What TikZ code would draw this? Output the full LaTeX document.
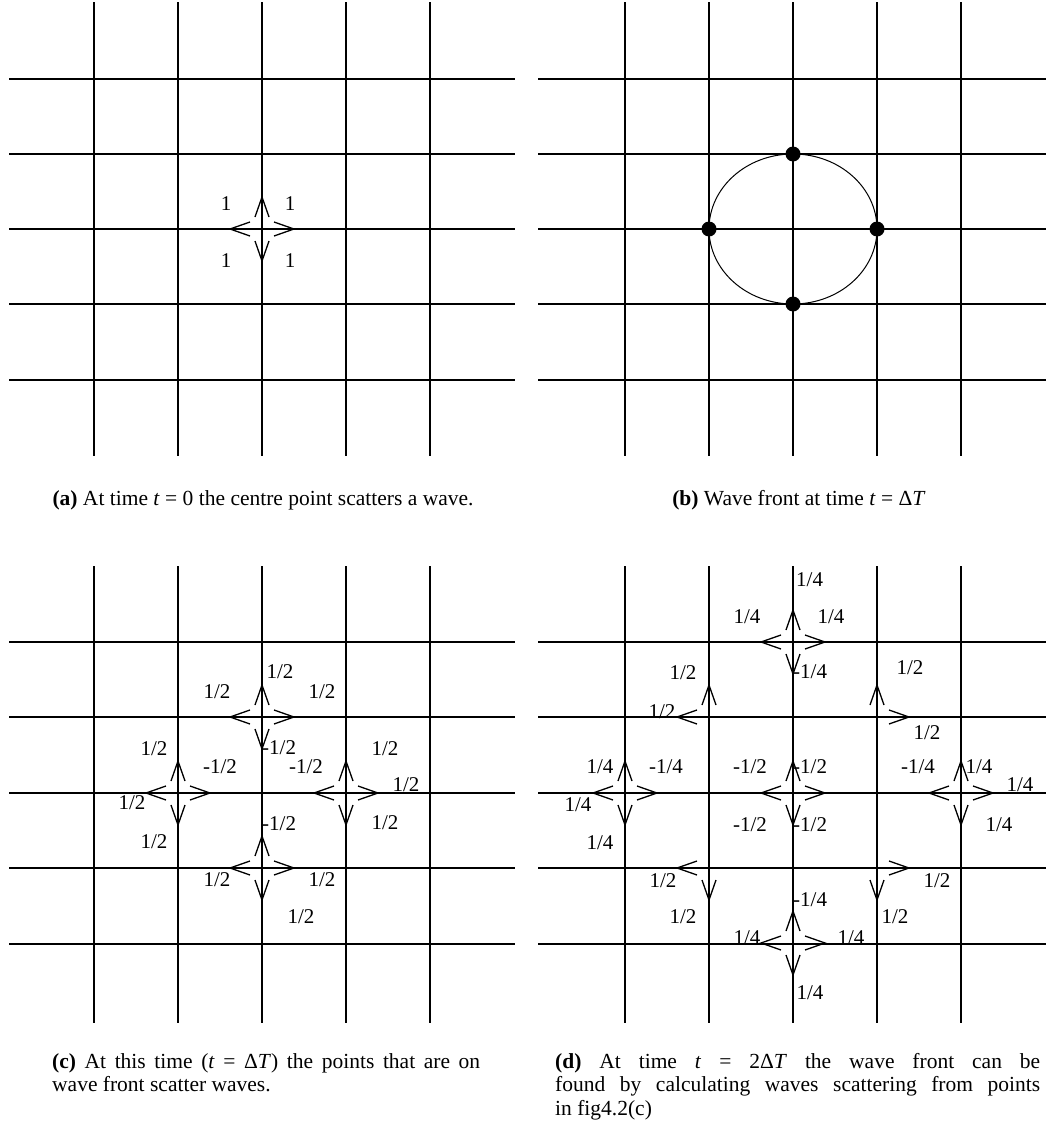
\documentclass[tikz,border=0pt]{standalone}
\usepackage{fontspec}
\setmainfont{Liberation Serif}
\tikzset{
  gridln/.style={line width=1.5pt, black},
  chv/.style={line width=1.3pt, line join=miter, black},
  lbl/.style={font=\fontsize{21}{24}\selectfont, inner sep=0pt},
  captxt/.style={font=\fontsize{21.5}{23.5}\selectfont, inner sep=0pt},
  cu/.pic={\draw[chv] (-7,-12) -- (0,-32) -- (7,-12);},
  cd/.pic={\draw[chv] (-7,12) -- (0,32) -- (7,12);},
  cl/.pic={\draw[chv] (-12,-7) -- (-32,0) -- (-12,7);},
  cr/.pic={\draw[chv] (12,-7) -- (32,0) -- (12,7);},
}
\newcommand\fourchev[1]{\pic at #1 {cu}; \pic at #1 {cd}; \pic at #1 {cl}; \pic at #1 {cr};}
\begin{document}
\begin{tikzpicture}[x=1pt,y=-1pt]
\useasboundingbox (0,0) rectangle (1047,1135);
% ---------- grids ----------
\foreach \x in {94,178,262,346,430} {\draw[gridln] (\x,2) -- (\x,456); \draw[gridln] (\x,566) -- (\x,1023);}
\foreach \y in {79,154,229,304,380} {\draw[gridln] (9,\y) -- (515,\y); \draw[gridln] (538,\y) -- (1046,\y);}
\foreach \x in {625,709,793,877,961} {\draw[gridln] (\x,2) -- (\x,456); \draw[gridln] (\x,566) -- (\x,1023);}
\foreach \y in {642,717,793,868,944} {\draw[gridln] (9,\y) -- (515,\y); \draw[gridln] (538,\y) -- (1046,\y);}

% ---------- (a) ----------
\fourchev{(262,229)}
\node[lbl] (a1) at (226,204) {1};
\node[lbl] (a2) at (290,204) {1};
\node[lbl] (a3) at (226,261) {1};
\node[lbl] (a4) at (290,261) {1};
\node[captxt] (capa) at (263,500) {\textbf{(a)} At time \textit{t} = 0 the centre point scatters a wave.};

% ---------- (b) ----------
\draw[line width=1pt] (793,229) ellipse [x radius=84, y radius=75];
\foreach \p in {(709,229),(877,229),(793,154),(793,304)}
  \fill \p circle [radius=7.5];
\node[captxt] (capb) at (799,500) {\textbf{(b)} Wave front at time \textit{t} = Δ\textit{T}};

% ---------- (c) ----------
\fourchev{(262,717)}
\fourchev{(178,793)}
\fourchev{(346,793)}
\fourchev{(262,868)}
\node[lbl] (c1) at (280,672) {1/2};
\node[lbl] (c2) at (217,692) {1/2};
\node[lbl] (c3) at (322,692) {1/2};
\node[lbl, anchor=west] (c4) at (262,748) {-1/2};
\node[lbl] (c5) at (154,749) {1/2};
\node[lbl] (c6) at (220,767) {-1/2};
\node[lbl] (c7) at (306,767) {-1/2};
\node[lbl] (c8) at (385,749) {1/2};
\node[lbl] (c9) at (406,785) {1/2};
\node[lbl] (c10) at (132,803) {1/2};
\node[lbl] (c11) at (385,823) {1/2};
\node[lbl] (c12) at (154,842) {1/2};
\node[lbl, anchor=west] (c13) at (262,824) {-1/2};
\node[lbl] (c14) at (217,880) {1/2};
\node[lbl] (c15) at (322,880) {1/2};
\node[lbl] (c16) at (301,917) {1/2};
\node[captxt, text width=428pt, align=justify, anchor=north west] (capc) at (52,1053)
  {\textbf{(c)} At this time (\textit{t} = Δ\textit{T}) the points that are on\linebreak wave front scatter waves.};

% ---------- (d) ----------
\fourchev{(793,642)}
\fourchev{(625,793)}
\fourchev{(793,793)}
\fourchev{(961,793)}
\fourchev{(793,943)}
\pic at (709,717) {cu}; \pic at (709,717) {cl};
\pic at (877,717) {cu}; \pic at (877,717) {cr};
\pic at (709,868) {cl}; \pic at (709,868) {cd};
\pic at (877,868) {cr}; \pic at (877,868) {cd};
% top star
\node[lbl, anchor=west] (d1) at (796,580) {1/4};
\node[lbl] (d2) at (747,617) {1/4};
\node[lbl] (d3) at (831,617) {1/4};
\node[lbl, anchor=west] (d4) at (793,672) {-1/4};
% upper partial stars
\node[lbl] (d5) at (683,673) {1/2};
\node[lbl] (d6) at (662,712) {1/2};
\node[lbl] (d7) at (910,668) {1/2};
\node[lbl] (d8) at (927,733) {1/2};
% left star
\node[lbl] (d9) at (600,767) {1/4};
\node[lbl] (d10) at (666,767) {-1/4};
\node[lbl] (d11) at (578,805) {1/4};
\node[lbl] (d12) at (600,843) {1/4};
% centre star
\node[lbl] (d13) at (750,767) {-1/2};
\node[lbl, anchor=west] (d14) at (793,767) {-1/2};
\node[lbl] (d15) at (750,825) {-1/2};
\node[lbl, anchor=west] (d16) at (793,825) {-1/2};
% right star
\node[lbl] (d17) at (918,767) {-1/4};
\node[lbl] (d18) at (979,767) {1/4};
\node[lbl] (d19) at (1020,785) {1/4};
\node[lbl] (d20) at (999,825) {1/4};
% lower partial stars
\node[lbl] (d21) at (663,881) {1/2};
\node[lbl] (d22) at (683,917) {1/2};
\node[lbl] (d23) at (937,881) {1/2};
\node[lbl] (d24) at (895,917) {1/2};
% bottom star
\node[lbl, anchor=west] (d25) at (793,900) {-1/4};
\node[lbl] (d26) at (747,938) {1/4};
\node[lbl] (d27) at (851,938) {1/4};
\node[lbl] (d28) at (810,993) {1/4};
\node[captxt, text width=485pt, align=justify, anchor=north west] (capd) at (555,1053)
  {\textbf{(d)} At time \textit{t} = 2Δ\textit{T} the wave front can be\linebreak found by calculating waves scattering from points\linebreak in fig4.2(c)};
\end{tikzpicture}
\end{document}
